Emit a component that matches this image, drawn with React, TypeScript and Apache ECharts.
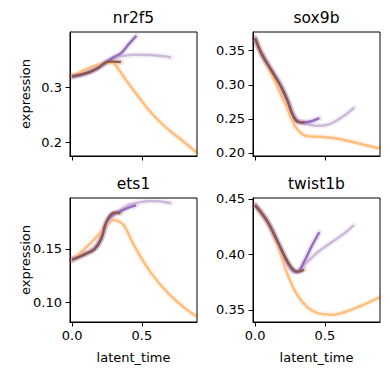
import React, { useEffect, useRef } from "react";
import * as echarts from "echarts";

// ---- data (latent_time, expression) ----
const panelTitles = ["nr2f5", "sox9b", "ets1", "twist1b"];
const seriesColors = ["#ffbb78", "#c5b0d5", "#9467bd", "#8c564b"];

const nr2f5Orange = [[0, 0.321], [0.09, 0.3325], [0.18, 0.3415], [0.24, 0.345], [0.28, 0.3465], [0.31, 0.342], [0.33, 0.335], [0.386, 0.314], [0.45, 0.292], [0.56, 0.256], [0.68, 0.2256], [0.8, 0.201], [0.89, 0.182]];
const nr2f5LightPurple = [[0, 0.32], [0.11, 0.329], [0.23, 0.3447], [0.3, 0.354], [0.36, 0.358], [0.45, 0.3604], [0.56, 0.36], [0.64, 0.358], [0.71, 0.3555]];
const nr2f5Purple = [[0, 0.32], [0.1, 0.326], [0.18, 0.335], [0.25, 0.348], [0.3, 0.356], [0.35, 0.363], [0.4, 0.378], [0.46, 0.395]];
const nr2f5Brown = [[0, 0.321], [0.11, 0.3275], [0.18, 0.3355], [0.24, 0.3458], [0.28, 0.348], [0.35, 0.347]];

const sox9bOrange = [[0, 0.368], [0.07, 0.3364], [0.16, 0.297], [0.235, 0.263], [0.282, 0.241], [0.33, 0.2289], [0.378, 0.2245], [0.45, 0.224], [0.57, 0.2216], [0.69, 0.2166], [0.81, 0.2107], [0.89, 0.207]];
const sox9bLightPurple = [[0, 0.368], [0.05, 0.344], [0.12, 0.322], [0.19, 0.298], [0.24, 0.274], [0.28, 0.256], [0.32, 0.246], [0.38, 0.242], [0.45, 0.24], [0.52, 0.2415], [0.57, 0.2459], [0.64, 0.255], [0.71, 0.2664]];
const sox9bPurple = [[0, 0.368], [0.045, 0.346], [0.115, 0.3217], [0.187, 0.297], [0.235, 0.2752], [0.27, 0.2557], [0.306, 0.2459], [0.354, 0.2449], [0.41, 0.247], [0.46, 0.251]];
const sox9bBrown = [[0, 0.368], [0.045, 0.346], [0.115, 0.3217], [0.187, 0.297], [0.235, 0.2752], [0.27, 0.2557], [0.306, 0.2459], [0.354, 0.2444]];

const ets1Orange = [[0, 0.139], [0.08, 0.149], [0.16, 0.159], [0.23, 0.1695], [0.3, 0.1772], [0.34, 0.1755], [0.374, 0.1716], [0.446, 0.1528], [0.564, 0.1278], [0.684, 0.109], [0.803, 0.095], [0.89, 0.087]];
const ets1LightPurple = [[0, 0.14], [0.09, 0.1455], [0.16, 0.151], [0.21, 0.161], [0.25, 0.174], [0.3, 0.182], [0.35, 0.187], [0.41, 0.1915], [0.47, 0.1934], [0.56, 0.195], [0.64, 0.1945], [0.71, 0.1928]];
const ets1Purple = [[0, 0.14], [0.09, 0.145], [0.16, 0.15], [0.207, 0.159], [0.243, 0.174], [0.28, 0.181], [0.35, 0.1855], [0.4, 0.1885], [0.457, 0.191]];
const ets1Brown = [[0, 0.14], [0.09, 0.145], [0.16, 0.1497], [0.207, 0.159], [0.243, 0.1747], [0.279, 0.1825], [0.31, 0.1842], [0.346, 0.1835]];

const twist1bOrange = [[0, 0.4445], [0.09, 0.4294], [0.187, 0.399], [0.235, 0.381], [0.306, 0.3627], [0.378, 0.352], [0.45, 0.347], [0.55, 0.3455], [0.62, 0.347], [0.76, 0.3536], [0.89, 0.3612]];
const twist1bLightPurple = [[0, 0.4445], [0.09, 0.429], [0.163, 0.41], [0.235, 0.391], [0.28, 0.385], [0.31, 0.386], [0.38, 0.394], [0.45, 0.4021], [0.569, 0.4127], [0.64, 0.419], [0.708, 0.4264]];
const twist1bPurple = [[0, 0.4445], [0.09, 0.4294], [0.163, 0.411], [0.235, 0.392], [0.28, 0.3845], [0.3, 0.384], [0.35, 0.393], [0.4, 0.406], [0.46, 0.42]];
const twist1bBrown = [[0, 0.4445], [0.09, 0.4294], [0.163, 0.4112], [0.235, 0.393], [0.282, 0.3855], [0.318, 0.3845], [0.35, 0.3864]];

const panelSeries = [
  [nr2f5Orange, nr2f5LightPurple, nr2f5Purple, nr2f5Brown],
  [sox9bOrange, sox9bLightPurple, sox9bPurple, sox9bBrown],
  [ets1Orange, ets1LightPurple, ets1Purple, ets1Brown],
  [twist1bOrange, twist1bLightPurple, twist1bPurple, twist1bBrown],
];

const xTicks = [0, 0.5];
const yTicksList = [
  [0.2, 0.3],
  [0.2, 0.25, 0.3, 0.35],
  [0.1, 0.15],
  [0.35, 0.4, 0.45],
];
const yDecimals = [1, 2, 2, 2];
const yRanges = [
  [0.175, 0.402],
  [0.1956, 0.3774],
  [0.0815, 0.1978],
  [0.339, 0.4509],
];
const xRange = [-0.015, 0.895];

export default function App() {
  const ref = useRef<HTMLDivElement>(null);
  useEffect(() => {
    if (!ref.current) return;
    const chart = echarts.init(ref.current, null, { renderer: "svg" });
    const font = "DejaVu Sans";
    const grids = [
      { left: 70, top: 32, width: 127, height: 124 },
      { left: 253, top: 32, width: 127, height: 124 },
      { left: 70, top: 198, width: 127, height: 124 },
      { left: 253, top: 198, width: 127, height: 124 },
    ];
    const series: any[] = [];
    panelSeries.forEach((lines, p) => {
      lines.forEach((data, k) => {
        series.push({
          type: "line",
          xAxisIndex: p,
          yAxisIndex: p,
          data,
          smooth: 0.4,
          showSymbol: false,
          silent: true,
          z: 2,
          lineStyle: { color: seriesColors[k], width: 6, opacity: 0.18, cap: "round" },
        });
        series.push({
          type: "line",
          xAxisIndex: p,
          yAxisIndex: p,
          data,
          smooth: 0.4,
          showSymbol: false,
          silent: true,
          z: 3,
          lineStyle: { color: seriesColors[k], width: 2.5, opacity: k === 1 ? 0.85 : 0.95, cap: "butt" },
        });
      });
    });
    const graphic: any[] = [];
    grids.forEach((g, p) => {
      graphic.push({
        type: "text",
        x: g.left + g.width / 2,
        y: g.top - 14,
        style: { text: panelTitles[p], font: `15.5px ${font}`, fill: "#000", textAlign: "center", textVerticalAlign: "middle" },
      });
      if (p >= 2) {
        graphic.push({
          type: "text",
          x: g.left + g.width / 2,
          y: 357,
          style: { text: "latent_time", font: `13px ${font}`, fill: "#000", textAlign: "center", textVerticalAlign: "middle" },
        });
      }
      if (p % 2 === 0) {
        graphic.push({
          type: "text",
          x: 25,
          y: g.top + g.height / 2,
          rotation: Math.PI / 2,
          style: { text: "expression", font: `13px ${font}`, fill: "#000", textAlign: "center", textVerticalAlign: "middle" },
        });
      }
    });
    chart.setOption({
      animation: false,
      backgroundColor: "#fff",
      grid: grids.map((g) => ({ ...g, show: true, borderColor: "#000", borderWidth: 1, backgroundColor: "transparent", z: 10 })),
      xAxis: grids.map((_, p) => ({
        type: "value",
        gridIndex: p,
        min: xRange[0],
        max: xRange[1],
        splitLine: { show: false },
        axisLine: { show: true, onZero: false, lineStyle: { color: "#000", width: 1 } },
        axisTick: { show: true, length: 4.5, lineStyle: { color: "#000", width: 1 }, customValues: xTicks },
        axisLabel: {
          show: p >= 2,
          customValues: xTicks,
          margin: 7,
          color: "#000",
          fontFamily: font,
          fontSize: 13,
          formatter: (v: number) => v.toFixed(1),
        },
      })),
      yAxis: grids.map((_, p) => ({
        type: "value",
        gridIndex: p,
        min: yRanges[p][0],
        max: yRanges[p][1],
        splitLine: { show: false },
        axisLine: { show: true, onZero: false, lineStyle: { color: "#000", width: 1 } },
        axisTick: { show: true, length: 4.5, lineStyle: { color: "#000", width: 1 }, customValues: yTicksList[p] },
        axisLabel: {
          customValues: yTicksList[p],
          margin: 8,
          color: "#000",
          fontFamily: font,
          fontSize: 13,
          formatter: (v: number) => v.toFixed(yDecimals[p]),
        },
      })),
      series,
      graphic,
    });
    return () => chart.dispose();
  }, []);
  return <div ref={ref} style={{ position: "fixed", left: 0, top: 0, width: 390, height: 375 }} />;
}
